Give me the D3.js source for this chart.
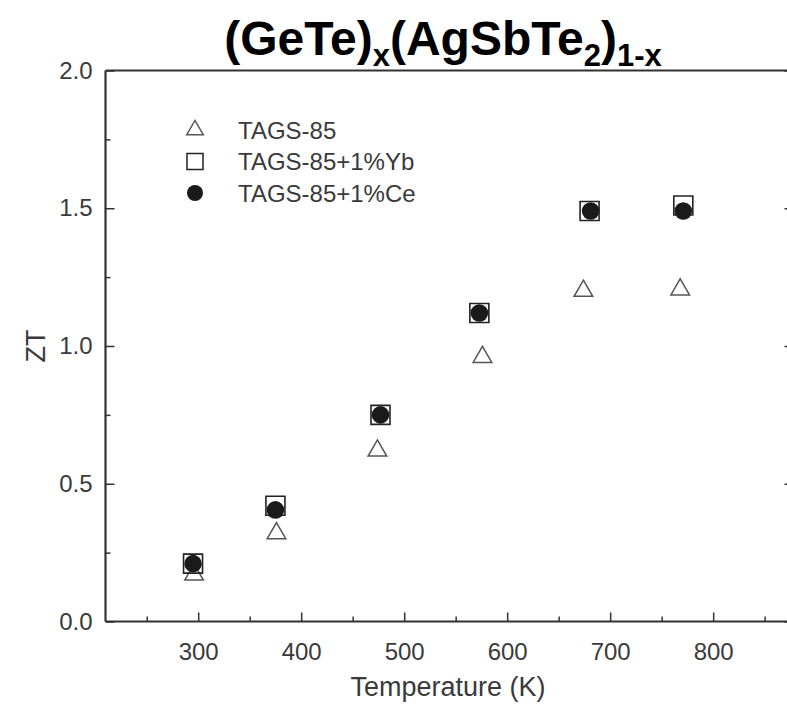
<!DOCTYPE html>
<html>
<head>
<meta charset="utf-8">
<script src="https://cdn.jsdelivr.net/npm/d3@7"></script>
<style>
  html, body { margin: 0; padding: 0; background: #fff; }
  svg { display: block; }
  text { font-family: "Liberation Sans", Arial, Helvetica, sans-serif; }
</style>
</head>
<body>
<svg id="chart" width="787" height="706"></svg>
<script>
// ZT versus temperature for TAGS-85 and its rare-earth doped variants
const seriesNames = ["TAGS-85", "TAGS-85+1%Yb", "TAGS-85+1%Ce"];

const tagsT  = [296, 376, 474, 576, 674, 768];
const tagsZT = [0.17, 0.32, 0.62, 0.96, 1.20, 1.205];

const ybT  = [295, 375, 477, 573, 680, 771];
const ybZT = [0.21, 0.42, 0.75, 1.12, 1.49, 1.51];

const ceT  = [295, 375, 477, 573, 681, 771];
const ceZT = [0.21, 0.405, 0.75, 1.12, 1.49, 1.49];

const xMajorTicks = [300, 400, 500, 600, 700, 800];
const xMinorTicks = [250, 350, 450, 550, 650, 750, 850];
const yMajorTicks = [0.0, 0.5, 1.0, 1.5, 2.0];
const yMinorTicks = [0.25, 0.75, 1.25, 1.75];

const svg = d3.select("#chart");
const axisColor = "#333";
const labelColor = "#3a3a3a";

const plotLeft = 105.5, plotRight = 793.5, plotTop = 70.5, plotBottom = 621.5;

const x = d3.scaleLinear().domain([210, 878]).range([plotLeft, plotRight]);
const y = d3.scaleLinear().domain([0, 2]).range([plotBottom, plotTop]);

// Title with sub-scripted parts
const title = svg.append("text")
  .attr("x", 443).attr("y", 55)
  .attr("text-anchor", "middle")
  .attr("font-size", 48).attr("font-weight", "bold")
  .attr("fill", "#000");
const titleParts = [
  ["(GeTe)", false], ["x", true], ["(AgSbTe", false], ["2", true], [")", false], ["1-x", true]
];
titleParts.forEach(([t, sub], i) => {
  const prevSub = i > 0 && titleParts[i - 1][1];
  const dy = sub && !prevSub ? 11 : (!sub && prevSub ? -11 : 0);
  title.append("tspan")
    .attr("dy", dy)
    .attr("font-size", sub ? 31 : 48)
    .text(t);
});

// Frame: top and right borders
svg.append("line").attr("x1", plotLeft).attr("x2", plotRight + 2).attr("y1", plotTop).attr("y2", plotTop)
  .attr("stroke", axisColor).attr("stroke-width", 2.2);
svg.append("line").attr("x1", plotRight).attr("x2", plotRight).attr("y1", plotTop).attr("y2", plotBottom)
  .attr("stroke", axisColor).attr("stroke-width", 2.2);

function styleAxis(g) {
  g.attr("font-size", 24).attr("font-family", "'Liberation Sans', Arial, sans-serif");
  g.select(".domain").attr("stroke", axisColor).attr("stroke-width", 2.2);
  g.selectAll(".tick line").attr("stroke", axisColor).attr("stroke-width", 1.5);
  g.selectAll(".tick text").attr("fill", labelColor);
}

// Bottom axis
const gx = svg.append("g").attr("transform", `translate(0,${plotBottom})`)
  .call(d3.axisBottom(x).tickValues(xMajorTicks).tickSize(-9).tickPadding(21)
    .tickFormat(d3.format("d")));
styleAxis(gx);
gx.select(".domain").attr("d", `M${plotLeft},0H${plotRight}`);
const gxm = svg.append("g").attr("transform", `translate(0,${plotBottom})`)
  .call(d3.axisBottom(x).tickValues(xMinorTicks).tickSize(-5).tickFormat(""));
styleAxis(gxm);
gxm.select(".domain").remove();

// Left axis
const gy = svg.append("g").attr("transform", `translate(${plotLeft},0)`)
  .call(d3.axisLeft(y).tickValues(yMajorTicks).tickSize(-9).tickPadding(13)
    .tickFormat(d3.format(".1f")));
styleAxis(gy);
gy.select(".domain").attr("d", `M0,${plotTop}V${plotBottom}`);
const gym = svg.append("g").attr("transform", `translate(${plotLeft},0)`)
  .call(d3.axisLeft(y).tickValues(yMinorTicks).tickSize(-5).tickFormat(""));
styleAxis(gym);
gym.select(".domain").remove();

// Right axis ticks (no labels)
const gr = svg.append("g").attr("transform", `translate(${plotRight},0)`)
  .call(d3.axisRight(y).tickValues(yMajorTicks).tickSize(-9).tickFormat(""));
styleAxis(gr);
gr.select(".domain").remove();
const grm = svg.append("g").attr("transform", `translate(${plotRight},0)`)
  .call(d3.axisRight(y).tickValues(yMinorTicks).tickSize(-5).tickFormat(""));
styleAxis(grm);
grm.select(".domain").remove();

// Axis titles
svg.append("text")
  .attr("x", 448).attr("y", 696)
  .attr("text-anchor", "middle")
  .attr("font-size", 27).attr("fill", labelColor)
  .text("Temperature (K)");
svg.append("text")
  .attr("transform", `translate(45,346) rotate(-90)`)
  .attr("text-anchor", "middle")
  .attr("font-size", 27).attr("fill", labelColor)
  .text("ZT");

// Marker symbols
const triSym = d3.symbol().type(d3.symbolTriangle);
const sqSym = d3.symbol().type(d3.symbolSquare);
const circSym = d3.symbol().type(d3.symbolCircle);

const plot = svg.append("g");

// TAGS-85: open grey triangles
plot.selectAll("path.tri")
  .data(d3.zip(tagsT, tagsZT))
  .join("path").attr("class", "tri")
  .attr("transform", d => `translate(${x(d[0])},${y(d[1])})`)
  .attr("d", triSym.size(150)())
  .attr("fill", "none").attr("stroke", "#555").attr("stroke-width", 1.5);

// TAGS-85+1%Yb: open black squares
plot.selectAll("path.sq")
  .data(d3.zip(ybT, ybZT))
  .join("path").attr("class", "sq")
  .attr("transform", d => `translate(${x(d[0])},${y(d[1])})`)
  .attr("d", sqSym.size(19 * 19)())
  .attr("fill", "none").attr("stroke", "#222").attr("stroke-width", 1.6);

// TAGS-85+1%Ce: filled black circles
plot.selectAll("path.circ")
  .data(d3.zip(ceT, ceZT))
  .join("path").attr("class", "circ")
  .attr("transform", d => `translate(${x(d[0])},${y(d[1])})`)
  .attr("d", circSym.size(Math.PI * 8.8 * 8.8)())
  .attr("fill", "#1a1a1a");

// Legend
const legend = svg.append("g");
const legendRows = [
  { name: seriesNames[0], sym: triSym.size(120)(), fill: "none", stroke: "#555", sw: 1.4 },
  { name: seriesNames[1], sym: sqSym.size(16 * 16)(), fill: "none", stroke: "#222", sw: 1.5 },
  { name: seriesNames[2], sym: circSym.size(Math.PI * 8 * 8)(), fill: "#1a1a1a", stroke: "none", sw: 0 }
];
legendRows.forEach((r, i) => {
  const cy = 130 + i * 31.5;
  legend.append("path")
    .attr("transform", `translate(195,${cy})`)
    .attr("d", r.sym).attr("fill", r.fill).attr("stroke", r.stroke).attr("stroke-width", r.sw);
  legend.append("text")
    .attr("x", 238).attr("y", cy + 8.5)
    .attr("font-size", 24).attr("fill", labelColor)
    .text(r.name);
});
</script>
</body>
</html>
